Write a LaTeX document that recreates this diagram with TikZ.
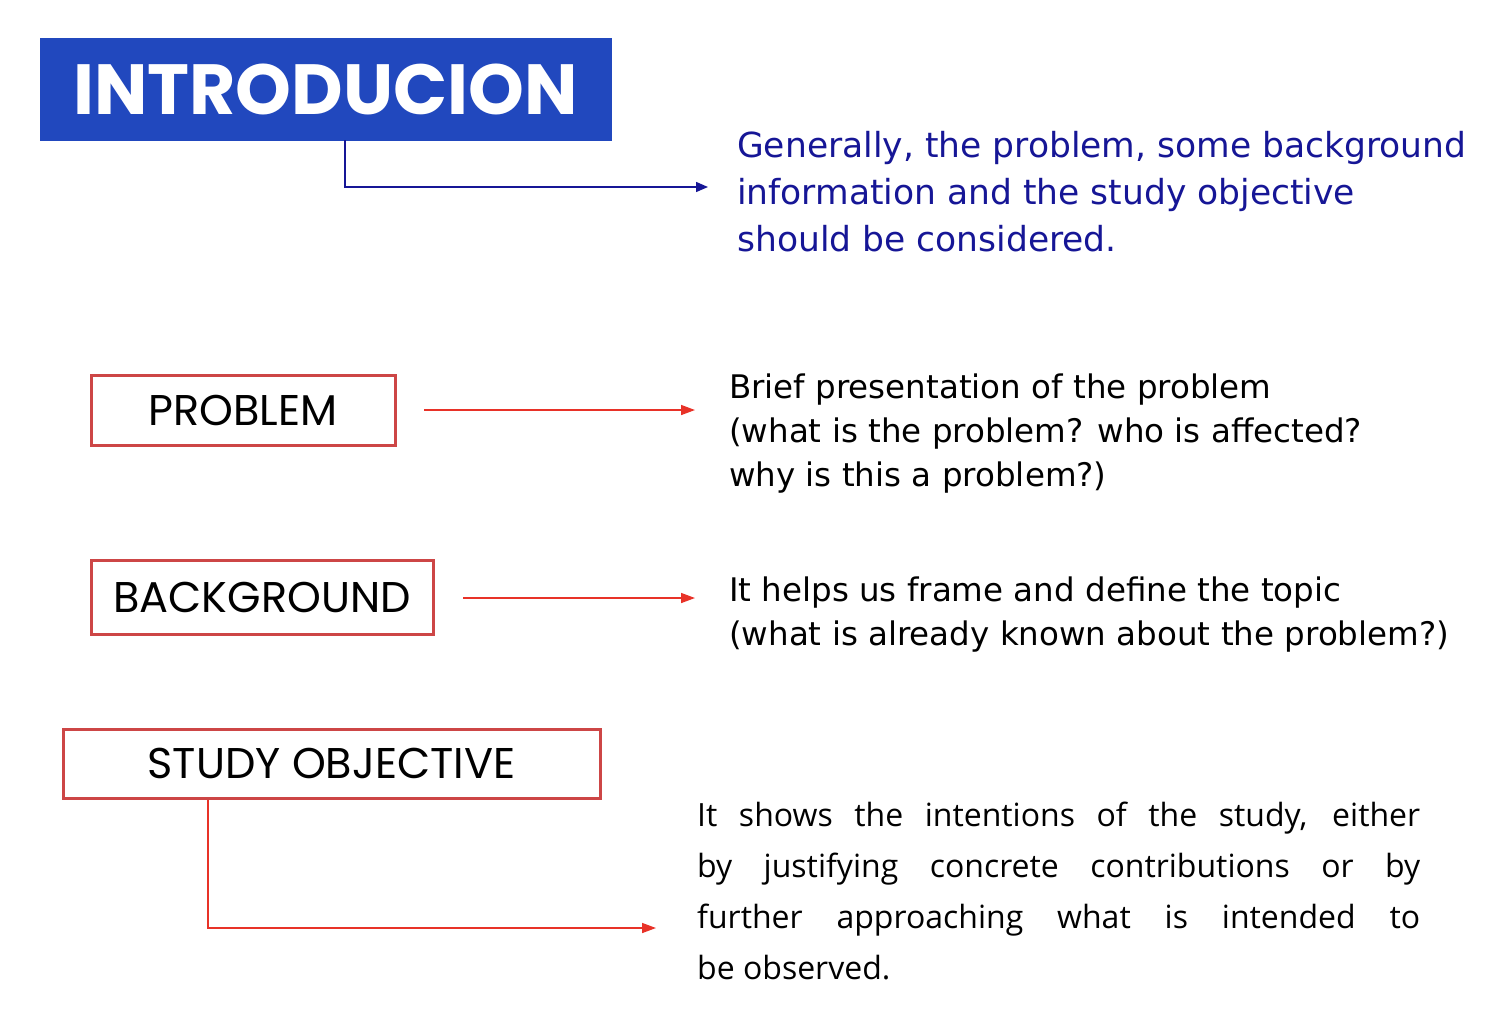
\documentclass[tikz,border=0pt]{standalone}
\usepackage{fontspec}
\setmainfont{DejaVu Sans}
\newfontfamily\boxfont{Poppins}
\newfontfamily\narrowfont{Open Sans}
\usetikzlibrary{arrows.meta, positioning}

\definecolor{introblue}{RGB}{33,72,190}
\definecolor{textblue}{RGB}{22,22,150}
\definecolor{boxred}{RGB}{205,70,70}
\definecolor{arrowred}{RGB}{232,50,40}

\tikzset{
    titlebox/.style={draw=introblue, fill=introblue, text=white, inner sep=0pt,
        font=\boxfont\bfseries\fontsize{71}{71}\selectfont},
    labelbox/.style={draw=boxred, line width=3pt, inner sep=0pt,
        font=\boxfont\fontsize{43}{43}\selectfont},
    bodytext/.style={anchor=west, inner sep=0pt, align=left,
        font=\fontsize{32.5}{44}\selectfont},
    bluearrow/.style={draw=textblue, line width=1.5pt, -{Triangle[length=12pt, width=10pt]}},
    redarrow/.style={draw=arrowred, line width=1.5pt, -{Triangle[length=14pt, width=10pt]}}
}

\begin{document}
\begin{tikzpicture}[x=1pt, y=-1pt]
        \useasboundingbox (0, 0) rectangle (1500, 1012);

        \node[titlebox, minimum width=571, minimum height=102] (intro) at (325.5, 89) {INTRODUCION};
        \node[labelbox, minimum width=304, minimum height=70] (problem) at (243, 410) {PROBLEM};
        \node[labelbox, minimum width=342, minimum height=74] (background) at (262, 597) {BACKGROUND};
        \node[labelbox, minimum width=537, minimum height=69] (objective) at (331.5, 763.5) {STUDY OBJECTIVE};

        \node[bodytext, text=textblue, font=\fontsize{34.5}{47}\selectfont] (introtext) at (737, 192)
            {Generally, the problem, some background\\information and the study objective\\should be considered.};
        \node[bodytext] (problemtext) at (729, 434)
            {Brief presentation of the problem\\(what is the problem? who is affected?\\why is this a problem?)};
        \node[bodytext] (bgtext) at (729, 615)
            {It helps us frame and define the topic\\(what is already known about the problem?)};
        \node[bodytext, text width=723, align=justify, font=\narrowfont\fontsize{32}{51}\selectfont] (objtext) at (697, 891)
            {It shows the intentions of the study, either\linebreak by justifying concrete contributions or by\linebreak further approaching what is intended to\linebreak be observed.};

        \coordinate (introend) at (708, 187);
        \coordinate (problemstart) at (424, 410);
        \coordinate (problemend) at (695, 410);
        \coordinate (bgstart) at (463, 598);
        \coordinate (bgend) at (695, 598);
        \coordinate (objend) at (656, 928);

        \draw[bluearrow] ([xshift=19.5]intro.south) |- (introend);
        \draw[redarrow] (problemstart) to (problemend);
        \draw[redarrow] (bgstart) to (bgend);
        \draw[redarrow] ([xshift=-123.5]objective.south) |- (objend);
    \end{tikzpicture}
\end{document}
